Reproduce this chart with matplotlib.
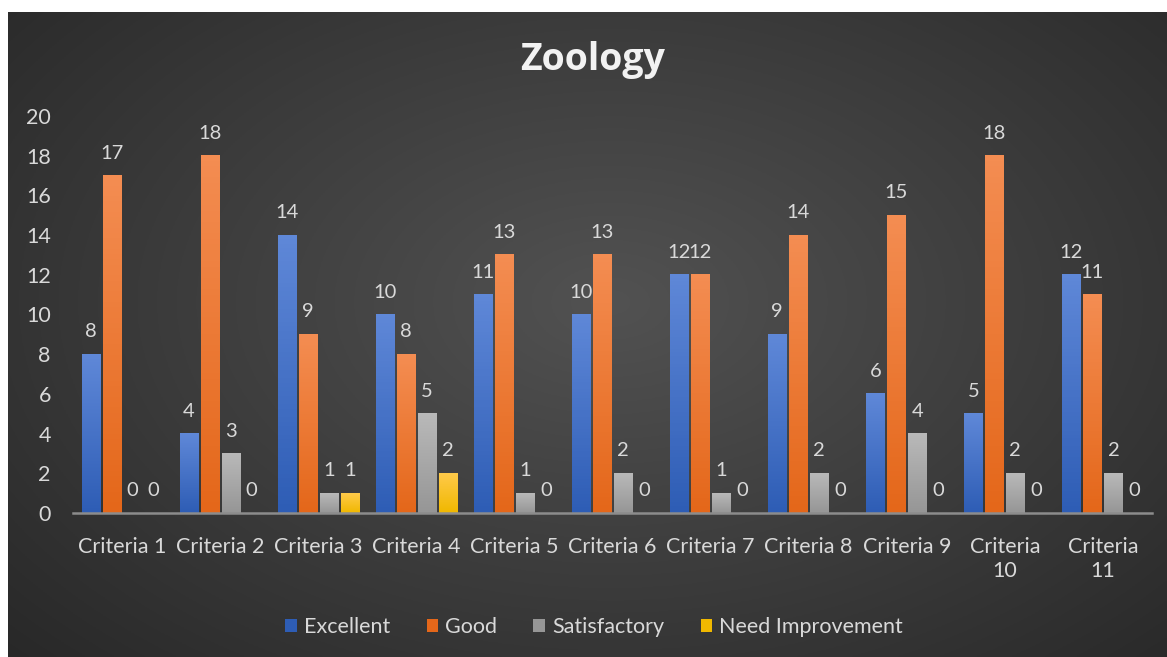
"""
Zoology: оценки по критериям
"""
import matplotlib
matplotlib.use("Agg")
import matplotlib.pyplot as plt
import numpy as np
from matplotlib.patches import Patch

plt.rcParams['font.family'] = ['Lato', 'DejaVu Sans']

# Данные
categories = ['Criteria 1', 'Criteria 2', 'Criteria 3', 'Criteria 4', 'Criteria 5',
              'Criteria 6', 'Criteria 7', 'Criteria 8', 'Criteria 9', 'Criteria\n10',
              'Criteria\n11']
excellent = [8, 4, 14, 10, 11, 10, 12, 9, 6, 5, 12]
good = [17, 18, 9, 8, 13, 13, 12, 14, 15, 18, 11]
satisfactory = [0, 3, 1, 5, 1, 2, 1, 2, 4, 2, 2]
need_improvement = [0, 0, 1, 2, 0, 0, 0, 0, 0, 0, 0]
series_names = ['Excellent', 'Good', 'Satisfactory', 'Need Improvement']
yticks = [0, 2, 4, 6, 8, 10, 12, 14, 16, 18, 20]

# Цвета (верх, низ градиента)
colors = [('#5f88d8', '#2e5db5'), ('#f48d52', '#e4671a'),
          ('#b9b9b9', '#969696'), ('#ffca4a', '#f0b800')]
text_color = '#d9d9d9'

W, H = 1167, 657
fig = plt.figure(figsize=(W / 100, H / 100), dpi=100)
fig.patch.set_facecolor('white')

# Фон с радиальным градиентом
bg = fig.add_axes([8 / W, 0, 1 - 8 / W, 1 - 12 / H])
bg.axis('off')
yy, xx = np.mgrid[0:1:300j, 0:1:500j]
r = np.sqrt(((xx - 0.52) / 0.75) ** 2 + ((yy - 0.45) / 0.85) ** 2)
r = np.clip(r, 0, 1)
c0 = np.array([0x52, 0x52, 0x52]) / 255
c1 = np.array([0x26, 0x26, 0x26]) / 255
img = c0[None, None, :] * (1 - r[..., None]) + c1[None, None, :] * r[..., None]
bg.imshow(img, aspect='auto', extent=[0, 1, 0, 1], origin='upper')
bg.set_xlim(0, 1)
bg.set_ylim(0, 1)

ax = fig.add_axes([73 / W, 1 - 513 / H, (1152 - 73) / W, (513 - 116) / H])
ax.patch.set_alpha(0)

x = np.arange(len(categories))
step = 0.214
bw = 0.184
all_series = [excellent, good, satisfactory, need_improvement]
grad = np.linspace(0, 1, 64).reshape(-1, 1)

for i, (vals, (ctop, cbot)) in enumerate(zip(all_series, colors)):
    offs = (i - 1.5) * step
    ct = np.array(matplotlib.colors.to_rgb(ctop))
    cb = np.array(matplotlib.colors.to_rgb(cbot))
    gimg = ct[None, None, :] * (1 - grad[..., None]) + cb[None, None, :] * grad[..., None]
    bars = ax.bar(x + offs, vals, width=bw, color=cbot, zorder=2)
    for b, v in zip(bars, vals):
        if v > 0:
            ax.imshow(gimg, aspect='auto', zorder=3,
                      extent=[b.get_x(), b.get_x() + b.get_width(), 0, v])
        ax.text(b.get_x() + b.get_width() / 2, v + 0.7, str(v),
                ha='center', va='bottom', color=text_color, fontsize=14.5)

ax.set_xlim(-0.5, len(categories) - 0.5)
ax.set_ylim(0, 20)
ax.set_yticks(yticks)
ax.set_yticklabels([str(t) for t in yticks], color=text_color, fontsize=15.5)
ax.set_xticks(x)
ax.set_xticklabels(categories, color=text_color, fontsize=15.5, linespacing=1.25, va='top')
ax.tick_params(axis='both', length=0)
ax.tick_params(axis='y', pad=16)
ax.tick_params(axis='x', pad=17)
for s in ['top', 'right', 'left']:
    ax.spines[s].set_visible(False)
ax.spines['bottom'].set_color('#8c8c8c')
ax.spines['bottom'].set_linewidth(1.8)
ax.spines['bottom'].set_zorder(4)

fig.text(593 / W, 1 - 60 / H, 'Zoology', ha='center', va='center',
         color='#f2f2f2', fontsize=27, fontweight='bold', family=['Open Sans', 'DejaVu Sans'])

handles = [Patch(facecolor=c[1], edgecolor='none') for c in colors]
fig.legend(handles, series_names, loc='center', bbox_to_anchor=(594 / W, 1 - 627 / H),
           ncol=4, frameon=False, fontsize=15.5, labelcolor=text_color,
           handlelength=0.55, handleheight=0.55, handletextpad=0.3, columnspacing=1.7)

plt.savefig('out.png', dpi=100, facecolor=fig.get_facecolor())
